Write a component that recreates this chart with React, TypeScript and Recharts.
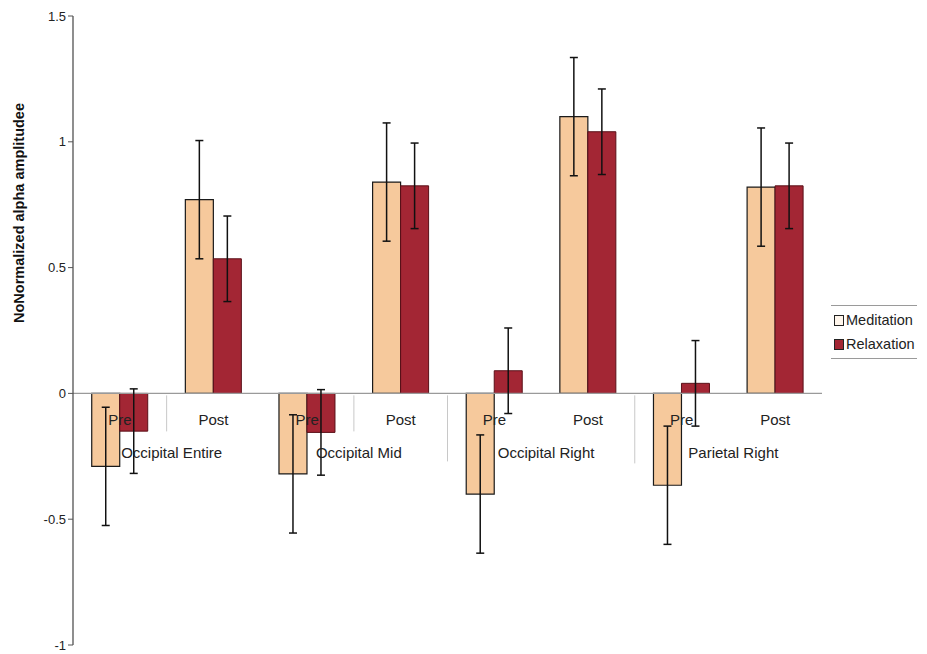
import React from "react";
import { BarChart, Bar, XAxis, YAxis, ErrorBar, ReferenceLine, Legend } from "recharts";

const phases = ["Pre", "Post", "Pre", "Post", "Pre", "Post", "Pre", "Post"];
const regions = ["Occipital Entire", "Occipital Mid", "Occipital Right", "Parietal Right"];
const meditation = [-0.29, 0.77, -0.32, 0.84, -0.4, 1.1, -0.365, 0.82];
const meditationErr = [0.235, 0.235, 0.235, 0.235, 0.235, 0.235, 0.235, 0.235];
const relaxation = [-0.15, 0.535, -0.155, 0.825, 0.09, 1.04, 0.04, 0.825];
const relaxationErr = [0.168, 0.17, 0.17, 0.17, 0.17, 0.17, 0.17, 0.17];
const yTicks = [-1, -0.5, 0, 0.5, 1, 1.5];

const data = phases.map((p, i) => ({
  id: `${p}-${i}`,
  meditation: meditation[i],
  meditationErr: meditationErr[i],
  relaxation: relaxation[i],
  relaxationErr: relaxationErr[i],
}));

const FONT = "Arial, 'Liberation Sans', sans-serif";
const W = 919;
const H = 646;
const MARGIN = { top: 8, right: 105, bottom: 8, left: 0 };
const YW = 65;
const XH = 1;
const PLOT_H = H - MARGIN.top - MARGIN.bottom - XH;
const PLOT_W = W - MARGIN.left - MARGIN.right - YW;
const BAND = PLOT_W / phases.length;
const Y_MIN = -1;
const Y_MAX = 1.5;
const ZERO_Y = MARGIN.top + (PLOT_H * (Y_MAX - 0)) / (Y_MAX - Y_MIN);

const MED_COLOR = "#F6C99C";
const REL_COLOR = "#A32634";

// separator marks drawn at left edge of these category indexes: [index, length]
const separators: [number, number][] = [
  [1, 36],
  [3, 36],
  [4, 66],
  [6, 68],
];

const CatTick = (props: any) => {
  const { x, payload } = props;
  const i = props.index ?? payload.index;
  const sep = separators.find((s) => s[0] === i);
  return (
    <g>
      {sep && (
        <line
          x1={x - BAND / 2}
          x2={x - BAND / 2}
          y1={ZERO_Y + 2}
          y2={ZERO_Y + 2 + sep[1]}
          stroke="#c8c8c8"
          strokeWidth={1}
        />
      )}
      <text
        x={x}
        y={ZERO_Y + 26}
        textAnchor="middle"
        dominantBaseline="central"
        fontSize={15}
        fontFamily={FONT}
        fill="#222"
      >
        {phases[i]}
      </text>
      {i % 2 === 0 && (
        <text
          x={x + BAND / 2 + 5}
          y={ZERO_Y + 59}
          textAnchor="middle"
          dominantBaseline="central"
          fontSize={15}
          fontFamily={FONT}
          fill="#222"
        >
          {regions[i / 2]}
        </text>
      )}
    </g>
  );
};

const LegendBox = () => (
  <div
    style={{
      borderTop: "1px solid #9a9a9a",
      borderBottom: "1px solid #9a9a9a",
      width: 86,
      padding: "2px 0",
      fontFamily: FONT,
      fontSize: 14.5,
      color: "#222",
      whiteSpace: "nowrap",
    }}
  >
    {[
      { name: "Meditation", fill: "#FFF6EC" },
      { name: "Relaxation", fill: REL_COLOR },
    ].map((it) => (
      <div key={it.name} style={{ display: "flex", alignItems: "center", height: 24 }}>
        <span
          style={{
            display: "inline-block",
            width: 8,
            height: 9,
            background: it.fill,
            border: "1.5px solid #222",
            marginLeft: 3,
            marginRight: 2,
            flexShrink: 0,
          }}
        />
        <span>{it.name}</span>
      </div>
    ))}
  </div>
);

const YLabel = () => (
  <text
    x={11}
    y={205}
    transform="rotate(-90 11 205)"
    textAnchor="middle"
    dominantBaseline="central"
    fontSize={14.5}
    fontWeight="bold"
    fontFamily={FONT}
    fill="#111"
  >
    NoNormalized alpha amplitudee
  </text>
);

export default function App() {
  return (
    <div style={{ width: W, height: H, position: "relative", background: "#fff" }}>
      <BarChart
        width={W}
        height={H}
        data={data}
        margin={MARGIN}
        barCategoryGap="20%"
        barGap={0}
      >
        <YAxis
          width={YW}
          domain={[Y_MIN, Y_MAX]}
          ticks={yTicks}
          allowDataOverflow
          tick={{ fontSize: 13, fontFamily: FONT, fill: "#222" }}
          tickSize={5}
          tickLine={{ stroke: "#555" }}
          axisLine={{ stroke: "#444", strokeWidth: 1.2 }}
          label={{ content: () => <YLabel /> }}
        />
        <XAxis
          dataKey="id"
          height={XH}
          axisLine={false}
          tickLine={false}
          interval={0}
          tick={<CatTick />}
        />
        <ReferenceLine y={0} stroke="#9a9a9a" strokeWidth={1.2} />
        <Bar
          dataKey="meditation"
          name="Meditation"
          fill={MED_COLOR}
          stroke="#1a1a1a"
          strokeWidth={1.2}
          isAnimationActive={false}
        >
          <ErrorBar dataKey="meditationErr" width={4} stroke="#111" strokeWidth={1.5} />
        </Bar>
        <Bar
          dataKey="relaxation"
          name="Relaxation"
          fill={REL_COLOR}
          stroke="#5a1018"
          strokeWidth={1}
          isAnimationActive={false}
        >
          <ErrorBar dataKey="relaxationErr" width={4} stroke="#111" strokeWidth={1.5} />
        </Bar>
        <Legend
          layout="vertical"
          align="center"
          verticalAlign="middle"
          content={<LegendBox />}
          wrapperStyle={{ position: "absolute", left: 823, top: 297, width: 88 }}
        />
      </BarChart>
    </div>
  );
}
